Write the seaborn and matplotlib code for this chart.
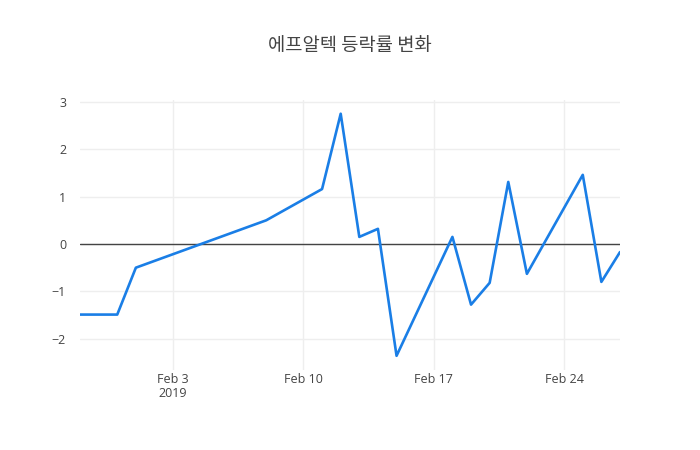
import matplotlib
matplotlib.use("Agg")
import matplotlib.pyplot as plt
import seaborn as sns
import pandas as pd

# daily change rate (%)
dates = [
    "2019-01-29", "2019-01-31", "2019-02-01", "2019-02-08", "2019-02-11",
    "2019-02-12", "2019-02-13", "2019-02-14", "2019-02-15", "2019-02-18",
    "2019-02-19", "2019-02-20", "2019-02-21", "2019-02-22", "2019-02-25",
    "2019-02-26", "2019-02-27",
]
change = [
    -1.49, -1.49, -0.50, 0.50, 1.16,
    2.75, 0.15, 0.32, -2.36, 0.15,
    -1.28, -0.82, 1.31, -0.63, 1.46,
    -0.80, -0.17,
]
tick_dates = ["2019-02-03", "2019-02-10", "2019-02-17", "2019-02-24"]
tick_labels = ["Feb 3\n2019", "Feb 10", "Feb 17", "Feb 24"]
y_ticks = [-2, -1, 0, 1, 2, 3]

df = pd.DataFrame({"date": pd.to_datetime(dates), "change": change})

sns.set_theme(style="white")
plt.rcParams["font.family"] = ["Open Sans", "Noto Sans CJK KR", "DejaVu Sans"]

fig = plt.figure(figsize=(7, 4.5), dpi=100)
ax = fig.add_axes([80 / 700, 80 / 450, 540 / 700, 270 / 450])

ax.grid(True, color="#eeeeee", linewidth=1)
ax.set_axisbelow(True)
ax.axhline(0, color="#444444", linewidth=1, zorder=1)

sns.lineplot(data=df, x="date", y="change", ax=ax, color="#1a7ee6",
             linewidth=1.9, zorder=3)

ax.set_xlim(df["date"].min(), df["date"].max())
ax.set_ylim(-2.66, 3.04)
ax.set_xticks(pd.to_datetime(tick_dates))
ax.set_xticklabels(tick_labels, linespacing=1.1)
ax.set_yticks(y_ticks)
ax.set_yticklabels([str(v).replace("-", "\u2212") for v in y_ticks])
ax.tick_params(axis="both", length=0, labelsize=9, colors="#444444")
ax.tick_params(axis="x", pad=2)
ax.tick_params(axis="y", pad=10)
for s in ax.spines.values():
    s.set_visible(False)
ax.set_xlabel("")
ax.set_ylabel("")

fig.text(0.5, 1 - 45 / 450, "에프알텍 등락률 변화", ha="center", va="center",
         fontsize=13.5, color="#444444",
         family=["Noto Sans CJK KR", "DejaVu Sans"])

fig.savefig("out.png", dpi=100)
